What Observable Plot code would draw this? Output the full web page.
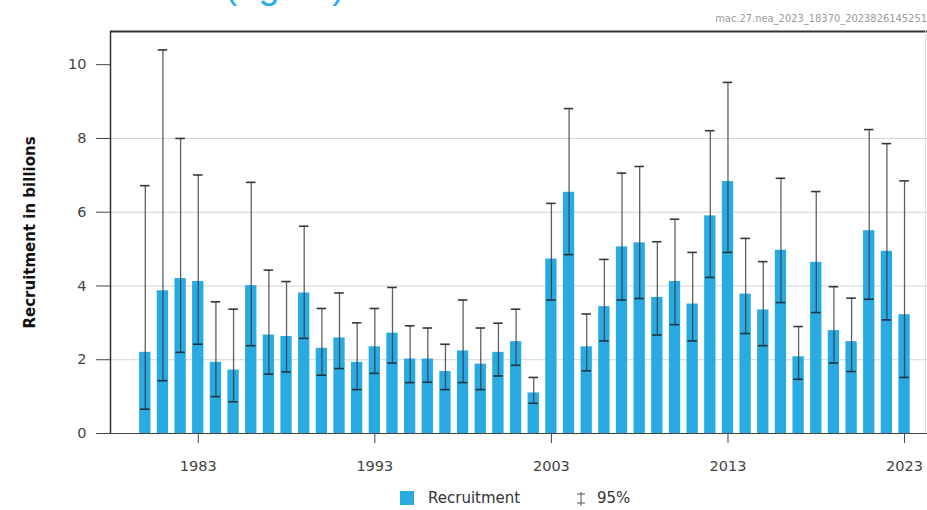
<!DOCTYPE html>
<html><head><meta charset="utf-8">
<script src="https://cdn.jsdelivr.net/npm/d3@7"></script>
<script src="https://cdn.jsdelivr.net/npm/@observablehq/plot@0.6"></script>
<style>
body{margin:0;background:#fff;font-family:"DejaVu Sans",sans-serif;}
#wrap{position:relative;width:927px;height:510px;overflow:hidden;background:#fff;}
#title{position:absolute;left:0;top:0;}
#stamp{position:absolute;right:0;top:12px;font:11px "DejaVu Sans Condensed","DejaVu Sans",sans-serif;color:#9a9a9a;white-space:nowrap;}
#chart{position:absolute;left:0;top:0;}
#legend{position:absolute;left:0;top:489px;width:927px;height:21px;font-size:15px;color:#333;}
#legend .sw{position:absolute;left:400px;top:2px;width:14px;height:14px;background:#29aae1;}
#legend .t1{position:absolute;left:428px;top:0px;}
#legend .g{position:absolute;left:574px;top:0px;}
#legend .t2{position:absolute;left:597px;top:0px;}
</style></head><body>
<div id="wrap">
  <svg id="title" width="927" height="20"><text x="345" y="-2" text-anchor="end" fill="#2bb0e6" font-family="Liberation Sans, Arial, sans-serif" font-size="38">Recruitment (age 0)</text></svg>
  <div id="stamp">mac.27.nea_2023_18370_2023826145251</div>
  <div id="chart"></div>
  <div id="legend">
    <div class="sw"></div><div class="t1">Recruitment</div>
    <svg class="g" width="14" height="20"><line x1="7" y1="3" x2="7" y2="17" stroke="#555" stroke-width="1"/><line x1="3" y1="5" x2="11" y2="5" stroke="#555" stroke-width="1"/><line x1="3" y1="14" x2="11" y2="14" stroke="#555" stroke-width="1"/></svg>
    <div class="t2">95%</div>
  </div>
</div>
<script>
const years = [1980,1981,1982,1983,1984,1985,1986,1987,1988,1989,1990,1991,1992,1993,1994,1995,1996,1997,1998,1999,2000,2001,2002,2003,2004,2005,2006,2007,2008,2009,2010,2011,2012,2013,2014,2015,2016,2017,2018,2019,2020,2021,2022,2023];
const recruitment = [2.20,3.87,4.20,4.12,1.93,1.72,4.01,2.67,2.63,3.81,2.31,2.59,1.93,2.35,2.72,2.02,2.02,1.68,2.24,1.88,2.20,2.49,1.10,4.73,6.54,2.35,3.44,5.06,5.17,3.69,4.12,3.51,5.90,6.83,3.78,3.35,4.97,2.08,4.64,2.79,2.49,5.50,4.94,3.22];
const low95 = [0.66,1.43,2.20,2.42,1.00,0.86,2.38,1.61,1.67,2.58,1.58,1.76,1.19,1.63,1.91,1.38,1.39,1.19,1.38,1.19,1.56,1.85,0.82,3.62,4.85,1.70,2.51,3.62,3.66,2.67,2.95,2.51,4.23,4.91,2.71,2.38,3.55,1.47,3.28,1.91,1.68,3.64,3.08,1.52];
const high95 = [6.72,10.40,8.00,7.01,3.57,3.37,6.81,4.43,4.12,5.62,3.39,3.81,3.00,3.39,3.96,2.92,2.86,2.42,3.62,2.86,2.99,3.37,1.52,6.24,8.81,3.24,4.72,7.06,7.24,5.20,5.81,4.91,8.21,9.52,5.29,4.66,6.92,2.90,6.56,3.98,3.67,8.24,7.86,6.85];
const xTicks = [1983,1993,2003,2013,2023];
const yTicks = [0,2,4,6,8,10];
const gridTicks = [2,4,6,8];
const xDomain = [1978.03, 2024.3];
const yDomain = [0, 10.9];

const data = years.map((year, i) => ({year, rec: recruitment[i], low: low95[i], high: high95[i]}));
const halfBar = 0.32, halfCap = 0.27;

const chart = Plot.plot({
  width: 927,
  height: 482,
  marginTop: 31,
  marginBottom: 49,
  marginLeft: 110,
  marginRight: 0,
  style: {fontFamily: "DejaVu Sans, sans-serif", fontSize: "14px", color: "#444", background: "transparent"},
  x: {domain: xDomain},
  y: {domain: yDomain},
  marks: [
    Plot.gridY(gridTicks, {stroke: "#d4d4d4", strokeOpacity: 1, strokeWidth: 1}),
    Plot.rectY(data, {x1: d => d.year - halfBar, x2: d => d.year + halfBar, y: "rec", fill: "#29aae1"}),
    Plot.ruleX(data, {x: "year", y1: "low", y2: "high", stroke: "#2f3a40", strokeWidth: 1.3, strokeOpacity: 0.8}),
    Plot.ruleY(data, {y: "high", x1: d => d.year - halfCap, x2: d => d.year + halfCap, stroke: "#2f3a40", strokeWidth: 1.6}),
    Plot.ruleY(data, {y: "low", x1: d => d.year - halfCap, x2: d => d.year + halfCap, stroke: "#1f3340", strokeWidth: 1.6}),
    Plot.axisY(yTicks, {tickSize: 14, tickPadding: 10, fontSize: 14.5, stroke: "#444", fill: "#444",
      label: "Recruitment in billions", labelAnchor: "center", labelArrow: "none", labelOffset: 86}),
    Plot.axisX(xTicks, {tickSize: 10, tickPadding: 17, fontSize: 14.5, tickFormat: d => String(d), stroke: "#444", fill: "#444", label: null}),
    Plot.ruleY([yDomain[0]], {stroke: "#444", strokeWidth: 1.2}),
    Plot.ruleY([yDomain[1]], {stroke: "#333", strokeWidth: 2}),
    Plot.ruleX([xDomain[0]], {stroke: "#333", strokeWidth: 1.5}),
    Plot.ruleX([xDomain[1]], {stroke: "#ddd", strokeWidth: 1, dx: -2})
  ]
});
document.getElementById("chart").appendChild(chart);
chart.querySelectorAll("g[aria-label='y-axis label'] text").forEach(t => {t.setAttribute("font-weight", "bold"); t.setAttribute("font-size", "15"); t.setAttribute("fill", "#111");});
</script>
</body></html>
